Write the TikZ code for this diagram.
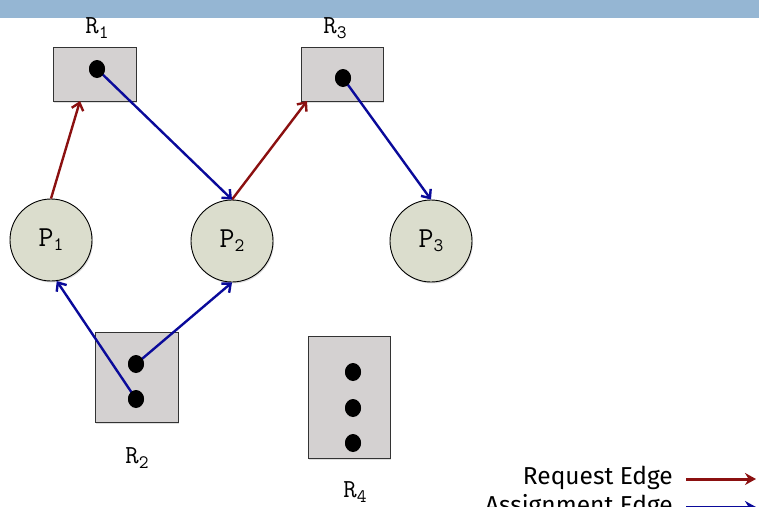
\documentclass[tikz,border=0pt]{standalone}
\usepackage{fontspec}
\setmainfont{Liberation Serif}
\newfontfamily\legendfont{Fira Sans}
\usetikzlibrary{arrows.meta,shadows}
\definecolor{bandblue}{HTML}{95B6D3}
\definecolor{reqred}{HTML}{8B1010}
\definecolor{asgblue}{HTML}{0A0A9A}
\definecolor{resgray}{HTML}{D4D1D1}
\definecolor{procfill}{HTML}{DBDDCD}
\newcommand{\subidx}[2]{\raisebox{-#1}{\fontsize{19}{19}\selectfont #2}}
\tikzset{
  resbox/.style={draw=black!80, line width=1pt, fill=resgray,
    drop shadow={shadow xshift=1pt, shadow yshift=-1.5pt, opacity=0.25}},
  proc/.style={circle, draw=black, line width=0.9pt, fill=procfill,
    minimum size=82pt, inner sep=0pt, font=\ttfamily\fontsize{29}{29}\selectfont,
    drop shadow={shadow xshift=1pt, shadow yshift=-1.5pt, opacity=0.25}},
  inst/.style={circle, fill=black, inner sep=0pt, minimum size=16pt},
  reslabel/.style={font=\ttfamily\fontsize{26}{26}\selectfont, inner sep=0pt},
  request/.style={draw=reqred, line width=2.4pt, -{Straight Barb[length=7pt,width=12pt]}},
  assign/.style={draw=asgblue, line width=2.4pt, -{Straight Barb[length=7pt,width=12pt]}},
  legendtext/.style={font=\legendfont\fontsize{24.5}{24.5}\selectfont, anchor=east, inner sep=0pt}
}
\begin{document}
\begin{tikzpicture}[x=1pt,y=-1pt]
  \useasboundingbox (0,0) rectangle (759,506);
  \clip (0,0) rectangle (759,506);
  % title band
  \fill[bandblue] (0,0) rectangle (759,18);

  % resources
  \draw[resbox] (53,47) rectangle (136,101);
  \draw[resbox] (301,47) rectangle (383,101);
  \draw[resbox] (95,332) rectangle (178,422);
  \draw[resbox] (308,336) rectangle (390,458);
  \coordinate (R1b) at (80,101);
  \coordinate (R3b) at (307,101);

  \node[reslabel] (L1) at (97,28) {R\subidx{5pt}{1}};
  \node[reslabel] (L3) at (335,28) {R\subidx{5pt}{3}};
  \node[reslabel] (L2) at (137,458) {R\subidx{5pt}{2}};
  \node[reslabel] (L4) at (355,492) {R\subidx{5pt}{4}};

  % resource instances
  \node[inst] (d1) at (97,69) {};
  \node[inst] (d3) at (343,78) {};
  \node[inst] (d2a) at (136,364) {};
  \node[inst] (d2b) at (136,399) {};
  \node[inst] (d4a) at (353,372) {};
  \node[inst] (d4b) at (353,408) {};
  \node[inst] (d4c) at (353,443) {};

  % processes
  \node[proc] (P1) at (51,240) {P\subidx{4pt}{1}};
  \node[proc] (P2) at (232,241) {P\subidx{4pt}{2}};
  \node[proc] (P3) at (431,241) {P\subidx{4pt}{3}};

  % request edges
  \draw[request] (P1.north) -- (R1b);
  \draw[request] (P2.north) -- (R3b);
  % assignment edges
  \draw[assign] (d1.center) -- (P2.north);
  \draw[assign] (d3.center) -- (P3.north);
  \draw[assign] (d2b.center) -- (P1.-82);
  \draw[assign] (d2a.center) -- (P2.-90);
  % instance dots drawn again over the line ends
  \foreach \d in {d1,d3,d2a,d2b,d4a,d4b,d4c} \fill[black] (\d) ellipse (8pt and 9pt);

  % legend
  \node[legendtext] (lreq) at (673,478) {Request Edge};
  \node[legendtext] (lasg) at (673,507) {Assignment Edge};
  \coordinate (a1s) at (686,479);
  \coordinate (a1e) at (756,479);
  \coordinate (a2s) at (686,507);
  \coordinate (a2e) at (756,507);
  \draw[draw=reqred, line width=3pt, -{Stealth[length=11pt,width=12pt]},
    drop shadow={shadow xshift=1pt, shadow yshift=-1.5pt, opacity=0.3}] (a1s) -- (a1e);
  \draw[draw=asgblue, line width=3pt, -{Stealth[length=11pt,width=12pt]}] (a2s) -- (a2e);
\end{tikzpicture}
\end{document}
